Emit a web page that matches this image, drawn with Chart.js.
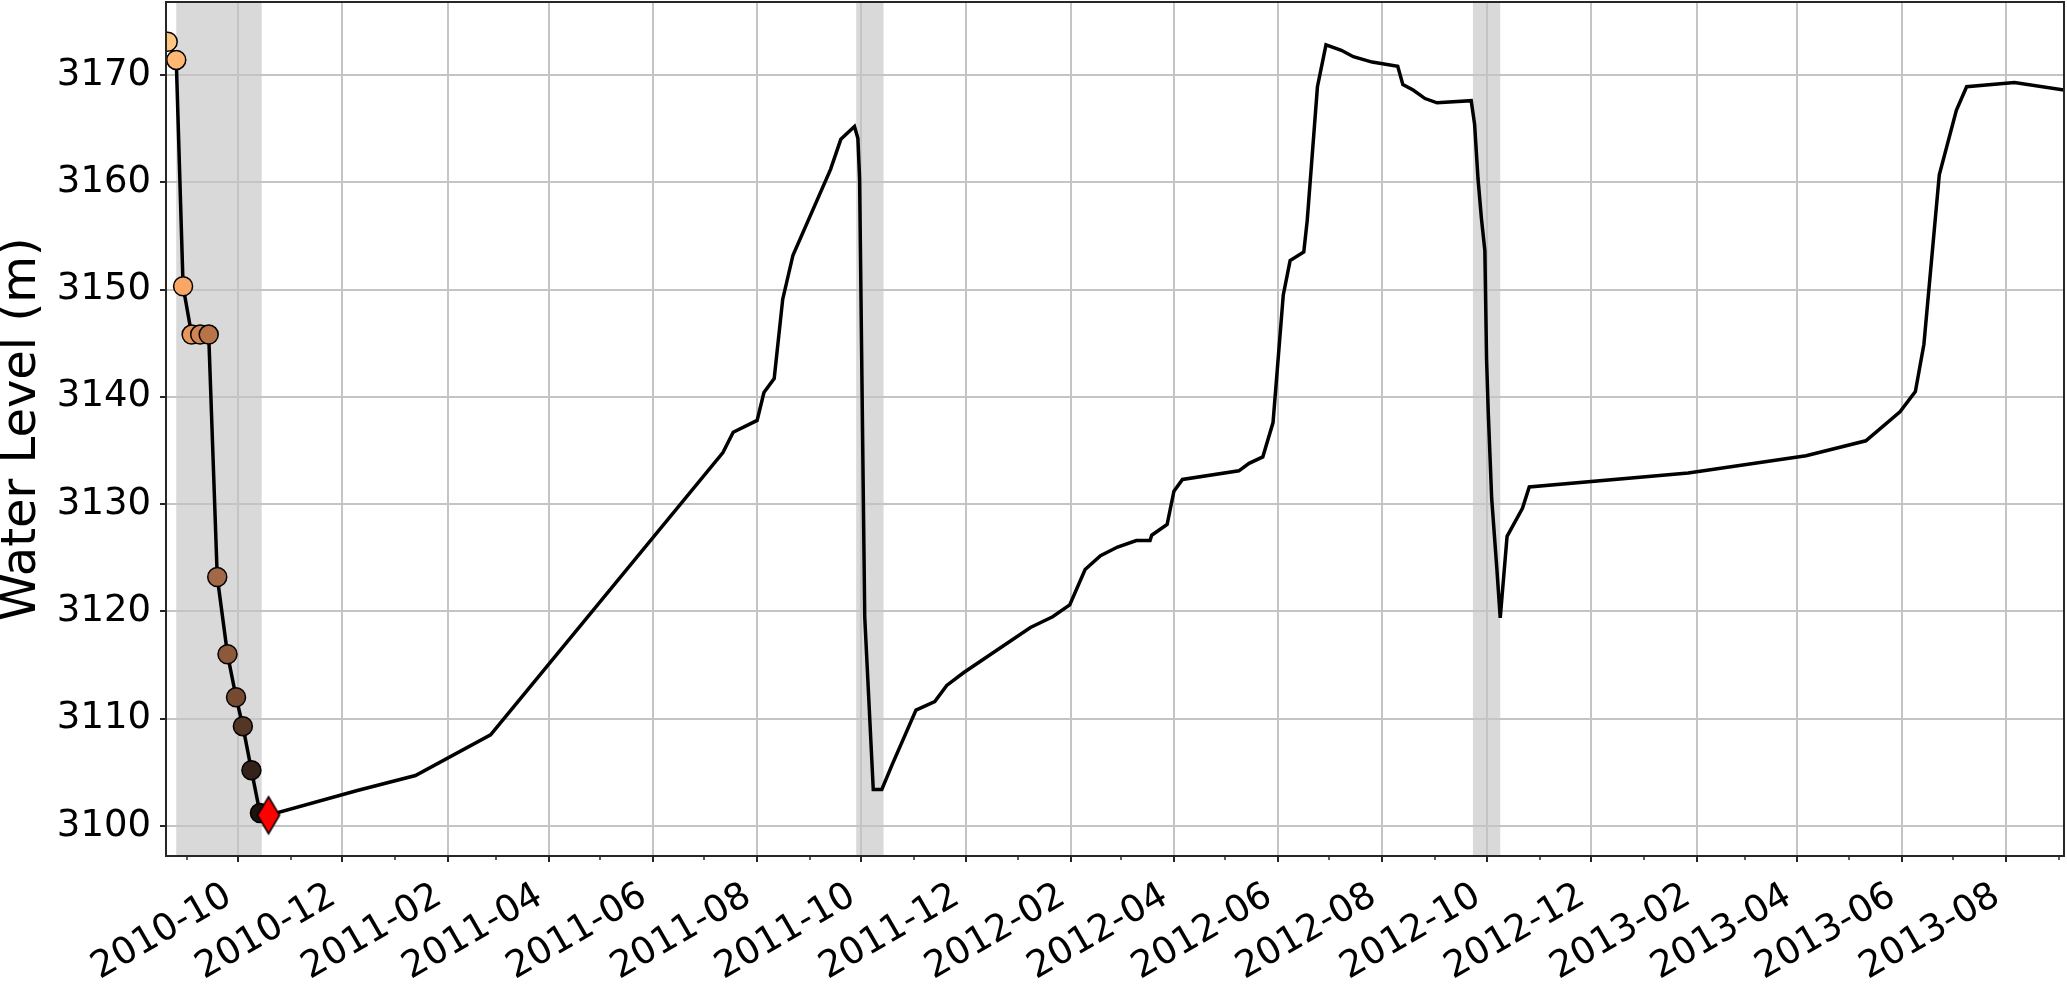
<!DOCTYPE html>
<html>
<head>
<meta charset="utf-8">
<title>Water Level</title>
<script src="https://cdn.jsdelivr.net/npm/chart.js@4.4.1/dist/chart.umd.min.js"></script>
<style>
  html, body { margin: 0; padding: 0; background: #fff; }
  #wrap { width: 2067px; height: 987px; position: relative; }
</style>
</head>
<body>
<div id="wrap"><canvas id="grafico"></canvas></div>
<script>
// Serie del nivel de agua
const lineDates = [
  '2010-08-21', '2010-08-26', '2010-08-30', '2010-09-04', '2010-09-09', '2010-09-14',
  '2010-09-19', '2010-09-25', '2010-09-30', '2010-10-04', '2010-10-09', '2010-10-14',
  '2010-10-19', '2010-12-10', '2011-01-13', '2011-02-26', '2011-07-12', '2011-07-18',
  '2011-08-01', '2011-08-05', '2011-08-11', '2011-08-16', '2011-08-22', '2011-09-13',
  '2011-09-19', '2011-09-27', '2011-09-29', '2011-09-30', '2011-10-03', '2011-10-08',
  '2011-10-13', '2011-10-19', '2011-11-02', '2011-11-13', '2011-11-20', '2011-11-30',
  '2012-01-08', '2012-01-21', '2012-01-31', '2012-02-09', '2012-02-18', '2012-02-28',
  '2012-03-10', '2012-03-18', '2012-03-19', '2012-03-28', '2012-04-01', '2012-04-06',
  '2012-05-09', '2012-05-15', '2012-05-23', '2012-05-29', '2012-06-04', '2012-06-08',
  '2012-06-16', '2012-06-18', '2012-06-24', '2012-06-29', '2012-07-08', '2012-07-15',
  '2012-07-26', '2012-08-10', '2012-08-13', '2012-08-19', '2012-08-26', '2012-09-02',
  '2012-09-22', '2012-09-24', '2012-09-26', '2012-09-28', '2012-09-30', '2012-10-01',
  '2012-10-02', '2012-10-04', '2012-10-07', '2012-10-09', '2012-10-13', '2012-10-22',
  '2012-10-26', '2013-01-27', '2013-04-06', '2013-05-11', '2013-05-31', '2013-06-09',
  '2013-06-14', '2013-06-23', '2013-07-03', '2013-07-09', '2013-08-06', '2013-09-04'
];
const lineLevels = [
  3173.1, 3171.4, 3150.3, 3145.8, 3145.8, 3145.8,
  3123.2, 3116.0, 3112.0, 3109.3, 3105.2, 3101.2,
  3101.0, 3103.3, 3104.7, 3108.5, 3134.8, 3136.7,
  3137.8, 3140.4, 3141.7, 3149.1, 3153.2, 3161.2,
  3164.0, 3165.2, 3164.1, 3160.3, 3119.5, 3103.4,
  3103.4, 3105.7, 3110.8, 3111.6, 3113.1, 3114.3,
  3118.5, 3119.5, 3120.6, 3123.9, 3125.2, 3126.0,
  3126.6, 3126.6, 3127.1, 3128.1, 3131.2, 3132.3,
  3133.1, 3133.8, 3134.4, 3137.6, 3149.5, 3152.7,
  3153.5, 3156.4, 3168.9, 3172.8, 3172.3, 3171.7,
  3171.2, 3170.8, 3169.1, 3168.6, 3167.8, 3167.4,
  3167.6, 3165.4, 3160.3, 3156.6, 3153.6, 3143.5,
  3138.5, 3130.5, 3124.0, 3119.4, 3127.0, 3129.6,
  3131.6, 3132.9, 3134.5, 3135.9, 3138.6, 3140.5,
  3144.9, 3160.7, 3166.7, 3168.9, 3169.3, 3168.6
];

// Puntos marcados con círculos
const markerDates = [
  '2010-08-21', '2010-08-26', '2010-08-30', '2010-09-04', '2010-09-09', '2010-09-14',
  '2010-09-19', '2010-09-25', '2010-09-30', '2010-10-04', '2010-10-09', '2010-10-14'
];
const markerLevels = [
  3173.1, 3171.4, 3150.3, 3145.8, 3145.8, 3145.8,
  3123.2, 3116.0, 3112.0, 3109.3, 3105.2, 3101.2
];
const markerColors = [
  '#ffc77f', '#ffb873', '#faa667', '#e8955c', '#d08552', '#b87448',
  '#a36845', '#8c5a3a', '#764a30', '#553525', '#33221a', '#1c130d'
];

// Último punto (rombo rojo)
const diamondDates = ['2010-10-19'];
const diamondLevels = [3101.0];

// Periodos sombreados
const spanStarts = ['2010-08-26', '2011-09-28', '2012-09-23'];
const spanEnds = ['2010-10-15', '2011-10-14', '2012-10-09'];

// Ejes
const xTickLabels = [
  '2010-10', '2010-12', '2011-02', '2011-04', '2011-06', '2011-08', '2011-10', '2011-12',
  '2012-02', '2012-04', '2012-06', '2012-08', '2012-10', '2012-12', '2013-02', '2013-04',
  '2013-06', '2013-08'
];
const yTickValues = [3100, 3110, 3120, 3130, 3140, 3150, 3160, 3170];
const xMin = '2010-08-20';
const xMax = '2013-09-04';
const yMin = 3097.2;
const yMax = 3176.8;

const toMs = d => Date.parse(d + 'T00:00:00Z');
const xTickMs = xTickLabels.map(l => toMs(l + '-01'));

// Rombo delgado como imagen para el punto final
function thinDiamond(w, h) {
  const c = document.createElement('canvas');
  c.width = w + 4;
  c.height = h + 4;
  const g = c.getContext('2d');
  g.beginPath();
  g.moveTo(c.width / 2, 2);
  g.lineTo(c.width - 2, c.height / 2);
  g.lineTo(c.width / 2, c.height - 2);
  g.lineTo(2, c.height / 2);
  g.closePath();
  g.fillStyle = '#ff0000';
  g.fill();
  g.lineWidth = 1.5;
  g.strokeStyle = '#000';
  g.stroke();
  return c;
}

// Sombreado (debajo de la cuadrícula)
const spansPlugin = {
  id: 'spans',
  beforeDraw(chart) {
    const {ctx, chartArea, scales} = chart;
    ctx.save();
    ctx.fillStyle = '#d9d9d9';
    spanStarts.forEach((s, i) => {
      const x0 = scales.x.getPixelForValue(toMs(s));
      const x1 = scales.x.getPixelForValue(toMs(spanEnds[i]));
      ctx.fillRect(x0, chartArea.top, x1 - x0, chartArea.bottom - chartArea.top);
    });
    ctx.restore();
  }
};

// Marco, ticks menores mensuales y etiquetas giradas del eje X
const framePlugin = {
  id: 'frame',
  afterDatasetsDraw(chart) {
    const {ctx, chartArea, scales} = chart;
    ctx.save();
    ctx.strokeStyle = '#262626';
    ctx.lineWidth = 2;
    ctx.strokeRect(chartArea.left, chartArea.top, chartArea.right - chartArea.left, chartArea.bottom - chartArea.top);

    const a = new Date(toMs(xMin));
    let y = a.getUTCFullYear(), m = a.getUTCMonth() + 1;
    ctx.lineWidth = 1.5;
    while (true) {
      const t = Date.UTC(y, m, 1);
      if (t > toMs(xMax)) break;
      if (!xTickMs.includes(t)) {
        const px = Math.round(scales.x.getPixelForValue(t));
        ctx.beginPath();
        ctx.moveTo(px, chartArea.bottom);
        ctx.lineTo(px, chartArea.bottom + 4);
        ctx.stroke();
      }
      m++;
      if (m > 11) { m = 0; y++; }
    }

    ctx.fillStyle = '#000';
    ctx.font = "37px 'DejaVu Sans'";
    ctx.textAlign = 'right';
    ctx.textBaseline = 'alphabetic';
    xTickMs.forEach((t, i) => {
      const px = scales.x.getPixelForValue(t);
      ctx.save();
      ctx.translate(px - 4, chartArea.bottom + 46);
      ctx.rotate(-Math.PI / 6);
      ctx.fillText(xTickLabels[i], 0, 0);
      ctx.restore();
    });
    ctx.restore();
  }
};

Chart.defaults.font.family = "'DejaVu Sans', sans-serif";
Chart.defaults.color = '#000';

const ctx = document.getElementById('grafico').getContext('2d');
new Chart(ctx, {
  type: 'scatter',
  data: {
    datasets: [
      {
        label: 'Nivel',
        data: lineDates.map((d, i) => ({x: toMs(d), y: lineLevels[i]})),
        showLine: true,
        borderColor: '#000',
        borderWidth: 3.5,
        pointRadius: 0,
        tension: 0,
        clip: 0,
        order: 3
      },
      {
        label: 'Puntos',
        data: markerDates.map((d, i) => ({x: toMs(d), y: markerLevels[i]})),
        showLine: false,
        pointRadius: 9.5,
        pointBackgroundColor: markerColors,
        pointBorderColor: '#000',
        pointBorderWidth: 1.5,
        clip: 0,
        order: 2
      },
      {
        label: 'Final',
        data: diamondDates.map((d, i) => ({x: toMs(d), y: diamondLevels[i]})),
        showLine: false,
        pointStyle: thinDiamond(22, 37),
        clip: 0,
        order: 1
      }
    ]
  },
  options: {
    responsive: true,
    maintainAspectRatio: false,
    animation: false,
    layout: { autoPadding: false, padding: { left: 0, right: 3, top: 2, bottom: 0 } },
    plugins: {
      legend: { display: false },
      tooltip: { enabled: false }
    },
    scales: {
      x: {
        type: 'linear',
        min: toMs(xMin),
        max: toMs(xMax),
        afterBuildTicks: s => { s.ticks = xTickMs.map(v => ({value: v})); },
        afterFit: s => { s.height = 131; s.paddingLeft = 0; s.paddingRight = 0; },
        ticks: { display: false },
        grid: { color: '#c4c4c4', lineWidth: 2, tickColor: '#262626', tickLength: 6, tickWidth: 2 },
        border: { display: false }
      },
      y: {
        type: 'linear',
        min: yMin,
        max: yMax,
        afterBuildTicks: s => { s.ticks = yTickValues.map(v => ({value: v})); },
        afterFit: s => { s.width = 166; s.paddingTop = 0; s.paddingBottom = 0; },
        ticks: {
          padding: 9,
          font: { size: 37 },
          color: '#000',
          callback: v => String(v)
        },
        grid: { color: '#c4c4c4', lineWidth: 2, tickColor: '#262626', tickLength: 6, tickWidth: 2 },
        border: { display: false },
        title: {
          display: true,
          text: 'Water Level (m)',
          font: { size: 48 },
          color: '#000',
          padding: { top: -6, bottom: 0 }
        }
      }
    }
  },
  plugins: [spansPlugin, framePlugin]
});
</script>
</body>
</html>
